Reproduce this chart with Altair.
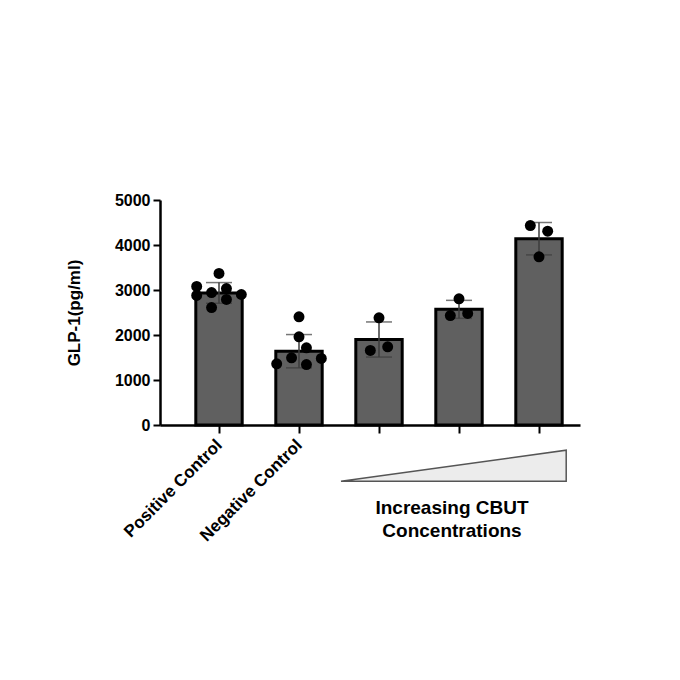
import altair as alt
import pandas as pd

FONT = "Liberation Sans"

# ---- data ----
categories = ["Positive Control", "Negative Control", "CBUT low", "CBUT mid", "CBUT high"]
means = [2935, 1640, 1900, 2570, 4140]
sds = [230, 370, 390, 200, 360]

pt_group = [0]*8 + [1]*7 + [2]*3 + [3]*3 + [4]*3
pt_value = [3367, 3078, 2944, 3033, 2900, 2789, 2611, 2878,
            2404, 1960, 1716, 1493, 1360, 1344, 1478,
            2382, 1656, 1738,
            2804, 2433, 2478,
            4433, 4307, 3737]
pt_jitter = [0.0, -0.9, -0.3, 0.3, 0.9, 0.3, -0.3, -0.9,
             0.0, 0.0, 0.3, -0.3, -0.9, 0.3, 0.9,
             0.0, -0.35, 0.35,
             0.0, -0.35, 0.35,
             -0.35, 0.35, 0.0]

# wedge showing increasing concentration (x in category units, y in pg/ml units below axis)
wedge_x = [1.525, 4.34]
wedge_y = [-1249, -560]
wedge_base = -1249
note_text = "Increasing CBUT\nConcentrations"
note_x = 2.9125
note_y = -1650

half = 0.29  # half bar width in category units

bars = pd.DataFrame({
    "idx": list(range(len(categories))),
    "cat": categories,
    "mean": means,
    "sd": sds,
})
bars["x1"] = bars["idx"] - half
bars["x2"] = bars["idx"] + half
bars["lo"] = bars["mean"] - bars["sd"]
bars["hi"] = bars["mean"] + bars["sd"]

pts = pd.DataFrame({"g": pt_group, "v": pt_value, "j": pt_jitter})
pts["xp"] = pts["g"] + pts["j"] * 0.31

wedge = pd.DataFrame({"x": wedge_x, "y": wedge_y, "y2": [wedge_base]*2})
note = pd.DataFrame({"x": [note_x], "y": [note_y], "t": [note_text]})

xscale = alt.Scale(domain=[-0.7375, 4.5125], nice=False, zero=False)
yscale = alt.Scale(domain=[0, 5000], nice=False)

label_expr = " : ".join(
    [f"datum.value == {i} ? '{c}'" for i, c in enumerate(categories[:2])]
) + " : ''"

x_axis = alt.Axis(
    values=list(range(len(categories))), labelExpr=label_expr, title=None,
    grid=False, domainColor="black", domainWidth=2.5, tickColor="black",
    tickWidth=2, tickSize=8, labelAngle=-45, labelAlign="right",
    labelBaseline="middle", labelFont=FONT, labelFontSize=17,
    labelFontWeight="bold", labelColor="black", labelPadding=9,
    labelOverlap=False, labelBound=False, labelFlush=False,
)
y_axis = alt.Axis(
    values=[0, 1000, 2000, 3000, 4000, 5000], format="d", title="GLP-1(pg/ml)",
    grid=False, domainColor="black", domainWidth=2.5, tickColor="black",
    tickWidth=2, tickSize=7, labelFont=FONT, labelFontSize=16,
    labelFontWeight="bold", labelColor="black", labelPadding=3,
    labelOverlap=False, labelFlush=False,
    titleFont=FONT, titleFontSize=17, titleFontWeight="bold",
    titleColor="black", titlePadding=31,
)

bar_layer = alt.Chart(bars).mark_rect(
    fill="#606060", stroke="black", strokeWidth=3
).encode(
    x=alt.X("x1:Q", scale=xscale, axis=x_axis),
    x2="x2:Q",
    y=alt.Y("mean:Q", scale=yscale, axis=y_axis),
    y2=alt.datum(0),
)

err_rule = alt.Chart(bars).mark_rule(color="#3c3c3c", strokeWidth=1.5).encode(
    x="idx:Q", y="lo:Q", y2="hi:Q"
)
cap_lo = alt.Chart(bars).mark_tick(
    color="#3c3c3c", thickness=1.5, size=26, orient="horizontal"
).encode(x="idx:Q", y="lo:Q")
cap_hi = alt.Chart(bars).mark_tick(
    color="#3c3c3c", thickness=1.5, size=26, orient="horizontal"
).encode(x="idx:Q", y="hi:Q")

dots = alt.Chart(pts).mark_circle(color="black", opacity=1, size=120).encode(
    x="xp:Q", y="v:Q"
)

wedge_layer = alt.Chart(wedge).mark_area(
    fill="#ececec", stroke="#555555", strokeWidth=1.5, clip=False
).encode(x="x:Q", y="y:Q", y2="y2:Q")

note_layer = alt.Chart(note).mark_text(
    font=FONT, fontSize=19, fontWeight="bold", color="black",
    align="center", baseline="top", lineBreak="\n", lineHeight=23, clip=False
).encode(x="x:Q", y="y:Q", text="t:N")

chart = alt.layer(
    bar_layer, err_rule, cap_lo, cap_hi, dots, wedge_layer, note_layer
).properties(
    width=420, height=225,
    autosize=alt.AutoSizeParams(type="none"),
    padding={"left": 160, "top": 200, "right": 100, "bottom": 255},
    background="white",
).configure_view(stroke=None)

chart.save("out.html", embed_options={"renderer": "svg", "actions": False})
